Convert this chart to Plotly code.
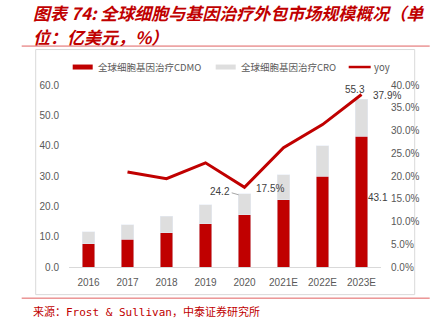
import plotly.graph_objects as go

years = ["2016", "2017", "2018", "2019", "2020", "2021E", "2022E", "2023E"]
cdmo = [7.7, 9.2, 11.3, 14.2, 17.2, 22.1, 30.0, 43.1]
cro = [3.9, 4.8, 5.5, 6.3, 7.0, 8.3, 9.9, 12.2]
yoy = [None, 20.9, 19.4, 22.9, 17.5, 26.2, 31.3, 37.9]
left_ticks = [0, 10, 20, 30, 40, 50, 60]
right_ticks = [0, 5, 10, 15, 20, 25, 30, 35, 40]

W, H = 434, 328
ML, MR, MT, MB = 69.3, 52.7, 85.0, 60.7
PW, PH = W - ML - MR, H - MT - MB

def px(x):
    return (x - ML) / PW

def py(y):
    return (H - MB - y) / PH

RED = "#c00000"
GRAY = "#dedede"
TXT = "#595959"
LAB = "#404040"
tick_font = dict(family="Liberation Sans, Arial, sans-serif", size=10, color=TXT)
lab_font = dict(family="Liberation Sans, Arial, sans-serif", size=10, color=LAB)
cjk = "Noto Sans CJK SC, sans-serif"

fig = go.Figure()
fig.add_trace(go.Bar(x=years, y=cdmo, name="全球细胞基因治疗CDMO", marker_color=RED,
                     width=0.32, showlegend=False))
fig.add_trace(go.Bar(x=years, y=cro, name="全球细胞基因治疗CRO", marker_color=GRAY,
                     width=0.32, showlegend=False))
fig.add_trace(go.Scatter(x=years, y=yoy, name="yoy", yaxis="y2", mode="lines",
                         line=dict(color=RED, width=3), showlegend=False))

totals = [a + b for a, b in zip(cdmo, cro)]
i20 = years.index("2020")
i23 = years.index("2023E")

ann = []
# data labels (category index used for x)
ann.append(dict(x=i20, y=totals[i20], xref="x", yref="y", text=f"{totals[i20]:.1f}",
                showarrow=False, xanchor="right", yanchor="middle", xshift=-13, yshift=2,
                font=lab_font))
ann.append(dict(x=i20, y=yoy[i20], xref="x", yref="y2", text=f"{yoy[i20]:.1f}%",
                showarrow=False, xanchor="left", yanchor="middle", xshift=9, yshift=-1,
                font=lab_font))
ann.append(dict(x=i23, y=totals[i23], xref="x", yref="y", text=f"{totals[i23]:.1f}",
                showarrow=False, xanchor="center", yanchor="bottom", xshift=-7, yshift=2,
                font=lab_font))
ann.append(dict(x=i23, y=yoy[i23], xref="x", yref="y2", text=f"{yoy[i23]:.1f}%",
                showarrow=False, xanchor="left", yanchor="middle", xshift=9, yshift=-1,
                font=lab_font))
ann.append(dict(x=i23, y=cdmo[i23] / 2, xref="x", yref="y", text=f"{cdmo[i23]:.1f}",
                showarrow=False, xanchor="left", yanchor="middle", xshift=4, yshift=4,
                font=lab_font))

# title
ann.append(dict(x=px(31), y=py(12), xref="paper", yref="paper", xanchor="left", yanchor="middle",
                text="<b><i>图表 74: 全球细胞与基因治疗外包市场规模概况（单</i></b>", showarrow=False,
                font=dict(family=cjk, size=17, color=RED)))
ann.append(dict(x=px(31), y=py(36), xref="paper", yref="paper", xanchor="left", yanchor="middle",
                text="<b><i>位：亿美元，%）</i></b>", showarrow=False,
                font=dict(family=cjk, size=17, color=RED)))
# source
ann.append(dict(x=px(31), y=py(312), xref="paper", yref="paper", xanchor="left", yanchor="middle",
                text="来源：Frost & Sullivan，中泰证券研究所", showarrow=False,
                font=dict(family="DejaVu Sans Mono, Noto Sans CJK SC, monospace", size=11, color=RED)))
# legend texts
for xx, t in [(96, "全球细胞基因治疗CDMO"), (239, "全球细胞基因治疗CRO"), (372, "yoy")]:
    ann.append(dict(x=px(xx), y=py(67), xref="paper", yref="paper", xanchor="left", yanchor="middle",
                    text=t, showarrow=False, font=dict(family=cjk, size=9.5, color=TXT)))

shapes = [
    # chart frame
    dict(type="rect", xref="paper", yref="paper", x0=px(36), x1=px(415), y0=py(295), y1=py(49.5),
         line=dict(color="#d9d9d9", width=1), layer="below"),
    # header / footer rules
    dict(type="line", xref="paper", yref="paper", x0=px(22), x1=px(430), y0=py(46), y1=py(46),
         line=dict(color="#e06060", width=1)),
    dict(type="line", xref="paper", yref="paper", x0=px(22), x1=px(430), y0=py(298.5), y1=py(298.5),
         line=dict(color="#e06060", width=1)),
    # leader line for 24.2
    dict(type="line", xref="paper", yref="paper", x0=px(232), x1=px(239), y0=py(193), y1=py(195),
         line=dict(color="#a6a6a6", width=1)),
    # legend swatches
    dict(type="rect", xref="paper", yref="paper", x0=px(73), x1=px(93), y0=py(69.5), y1=py(64.5),
         fillcolor=RED, line=dict(width=0)),
    dict(type="rect", xref="paper", yref="paper", x0=px(216), x1=px(236), y0=py(69.5), y1=py(64.5),
         fillcolor=GRAY, line=dict(width=0)),
    dict(type="line", xref="paper", yref="paper", x0=px(349), x1=px(371), y0=py(67), y1=py(67),
         line=dict(color=RED, width=2.5)),
]

fig.update_layout(
    width=W, height=H,
    margin=dict(l=ML, r=MR, t=MT, b=MB, pad=0),
    barmode="stack",
    plot_bgcolor="white", paper_bgcolor="white",
    showlegend=False,
    annotations=ann, shapes=shapes,
    xaxis=dict(type="category", range=[-0.5, 7.5], showline=True, linecolor="#d9d9d9", linewidth=1,
               ticks="", tickfont=tick_font, showgrid=False, ticklabelstandoff=6),
    yaxis=dict(range=[0, 60], tickvals=left_ticks, ticktext=[f"{v:.1f}" for v in left_ticks],
               showgrid=False, zeroline=False, showline=False, tickfont=tick_font, ticklabelstandoff=9),
    yaxis2=dict(range=[0, 40], overlaying="y", side="right", tickvals=right_ticks,
                ticktext=[f"{v:.1f}%" for v in right_ticks], showgrid=False, zeroline=False,
                showline=False, tickfont=tick_font, ticklabelstandoff=9),
)

fig.write_html("out.html")
